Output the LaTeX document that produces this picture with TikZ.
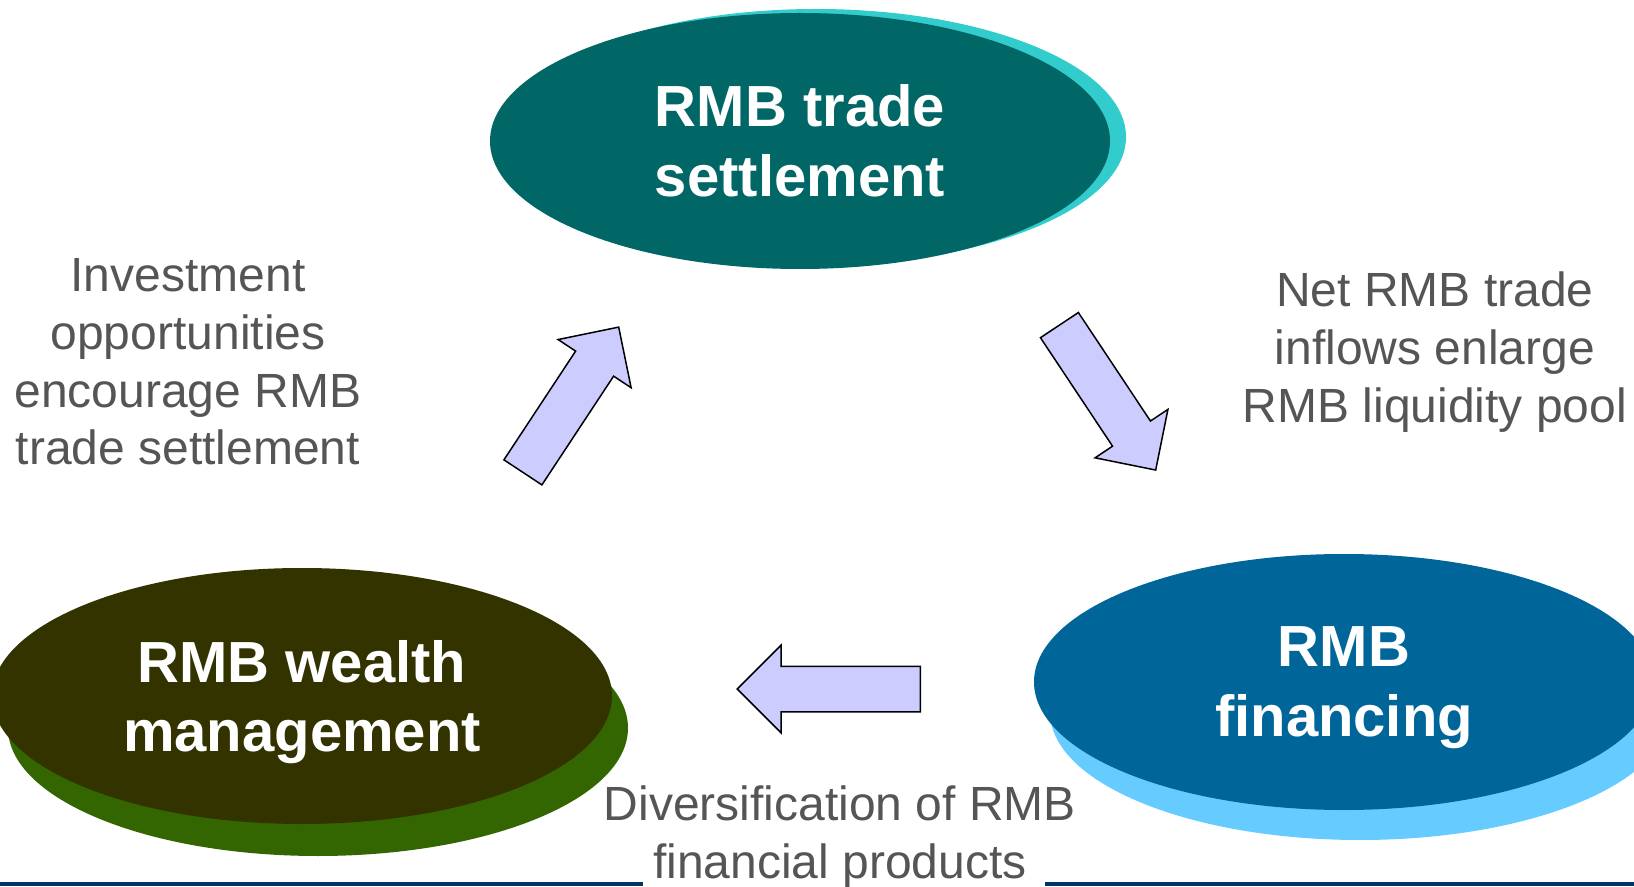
\documentclass[tikz,border=0pt]{standalone}
\usepackage{fontspec}
\setmainfont{Liberation Sans}
\usetikzlibrary{shapes.geometric,shapes.arrows,shadows}
\definecolor{tealmain}{RGB}{0,102,102}
\definecolor{tealshade}{RGB}{51,204,204}
\definecolor{olivemain}{RGB}{51,51,0}
\definecolor{oliveshade}{RGB}{51,102,0}
\definecolor{bluemain}{RGB}{0,102,153}
\definecolor{blueshade}{RGB}{102,204,255}
\definecolor{arrowfill}{RGB}{204,204,255}
\definecolor{labelgray}{RGB}{85,85,85}
\definecolor{rulenavy}{RGB}{0,51,102}
\tikzset{
  stage/.style={ellipse,minimum width=310pt,minimum height=128pt,inner sep=0pt,
    text=white,align=center,font=\fontsize{29}{34.8}\selectfont\bfseries},
  flow/.style={single arrow,draw=black,fill=arrowfill,line width=0.75pt,
    inner sep=11pt,minimum width=43pt,single arrow head extend=10.5pt,anchor=tail},
  note/.style={text=labelgray,align=center,font=\fontsize{24}{28.8}\selectfont}
}
\begin{document}
\begin{tikzpicture}[x=0.5pt,y=-0.5pt]
\useasboundingbox (0,0) rectangle (1634,887);
% rule along the bottom
\draw[rulenavy,line width=2pt] (0,884)--(643,884);
\draw[rulenavy,line width=2pt] (1045,884)--(1634,884);
% the three stages
\node[stage,fill=tealmain,drop shadow={shadow xshift=8pt,shadow yshift=2pt,fill=tealshade,opacity=1}] (trade) at (800,141) {RMB trade\\settlement};
\node[stage,text height=60.5pt,fill=bluemain,drop shadow={shadow xshift=8pt,shadow yshift=-15pt,fill=blueshade,opacity=1}] (financing) at (1344,682) {RMB\\financing};
\node[stage,text height=62pt,fill=olivemain,drop shadow={shadow xshift=8pt,shadow yshift=-16pt,fill=oliveshade,opacity=1}] (wealth) at (302,696) {RMB wealth\\management};
% block arrows
\node[flow,rotate=-56.4,minimum height=87pt] (a1) at (1059,324.5) {};
\node[flow,rotate=180,minimum height=91.5pt] (a2) at (921,689) {};
\node[flow,rotate=56.6,minimum height=87pt] (a3) at (522.5,473) {};
% labels
\node[note] (l1) at (1435,352) {Net RMB trade\\inflows enlarge\\RMB liquidity pool};
\node[note] (l2) at (840,837) {Diversification of RMB\\financial products};
\node[note] (l3) at (188,362) {Investment\\opportunities\\encourage RMB\\trade settlement};
\end{tikzpicture}
\end{document}
